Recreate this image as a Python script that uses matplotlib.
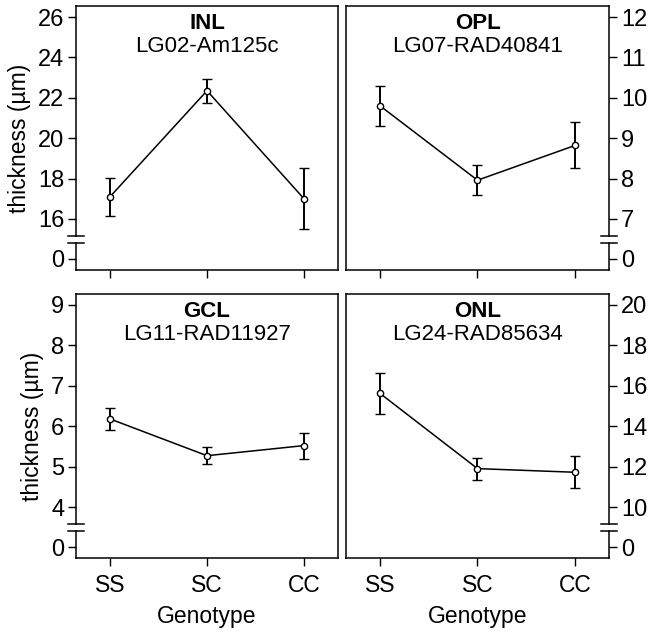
import numpy as np
import matplotlib.pyplot as plt

plt.rcParams['font.family'] = ['Liberation Sans', 'DejaVu Sans']

genotypes = ["SS", "SC", "CC"]

layers = ["INL", "OPL", "GCL", "ONL"]
loci = ["LG02-Am125c", "LG07-RAD40841", "LG11-RAD11927", "LG24-RAD85634"]

inl_mean = [17.1, 22.35, 17.0]
inl_err = [0.95, 0.6, 1.5]
opl_mean = [9.8, 7.96, 8.82]
opl_err = [0.49, 0.37, 0.57]
gcl_mean = [6.18, 5.27, 5.52]
gcl_err = [0.28, 0.21, 0.32]
onl_mean = [15.62, 11.9, 11.72]
onl_err = [1.0, 0.55, 0.8]

inl_ticks = [16, 18, 20, 22, 24, 26]
opl_ticks = [7, 8, 9, 10, 11, 12]
gcl_ticks = [4, 5, 6, 7, 8, 9]
onl_ticks = [10, 12, 14, 16, 18, 20]

means = [inl_mean, opl_mean, gcl_mean, onl_mean]
errs = [inl_err, opl_err, gcl_err, onl_err]
ticks = [inl_ticks, opl_ticks, gcl_ticks, onl_ticks]


def broken_scale(lo, hi):
    # axis measured in px from the bottom: 0 sits low, a gap, then lo..hi
    k = 202.0 / (hi - lo)
    ub = lo - 17.0 / k
    lb = 16.0 / k

    def fwd(y):
        y = np.asarray(y, dtype=float)
        return np.where(y >= ub, 51 + (y - lo) * k,
                        np.where(y <= lb, 11 + y * k,
                                 27 + (y - lb) / (ub - lb) * 7))

    def inv(t):
        t = np.asarray(t, dtype=float)
        return np.where(t >= 34, lo + (t - 51) / k,
                        np.where(t <= 27, (t - 11) / k,
                                 lb + (t - 27) / 7 * (ub - lb)))

    return fwd, inv, ub, lb, k


W, H = 650, 632
fig = plt.figure(figsize=(W / 100, H / 100), dpi=100)

boxes = [(76, 6, 262), (346, 6, 263), (76, 294, 262), (346, 294, 263)]
x = np.arange(1, len(genotypes) + 1)

for i in range(4):
    x0, y0, w = boxes[i]
    ax = fig.add_axes([x0 / W, (H - y0 - 264) / H, w / W, 264 / H])
    left = i % 2 == 0
    bottom = i >= 2
    lo, hi = ticks[i][0], ticks[i][-1]
    fwd, inv, ub, lb, k = broken_scale(lo, hi)
    ax.set_yscale('function', functions=(fwd, inv))

    ax.errorbar(x, means[i], yerr=errs[i], fmt='-o', color='black',
                mfc='white', mec='black', ms=4.5, mew=1.0, lw=1.1,
                elinewidth=1.4, capsize=3.5, capthick=1.4)

    ax.set_xlim(0.65, 3.35)
    ax.set_ylim(-11 / k, lo + 213 / k)
    ax.set_yticks([0] + ticks[i])
    ax.set_yticklabels(['0'] + [str(t) for t in ticks[i]])
    ax.set_xticks(x)
    ax.set_xticklabels(genotypes if bottom else [])

    for s in ax.spines.values():
        s.set_linewidth(1.1)
    side = 'left' if left else 'right'
    sx = 0.0 if left else 1.0
    ax.spines[side].set_bounds(ub, lo + 213 / k)
    ytr = ax.get_yaxis_transform()
    ax.plot([sx, sx], [-11 / k, lb], color='black', lw=1.1,
            transform=ytr, clip_on=False)
    for yb in (ub, lb):
        ax.plot([sx - 0.032, sx + 0.032], [yb, yb], color='black', lw=1.1,
                transform=ytr, clip_on=False)

    ax.tick_params(axis='y', direction='out', length=5.5, width=1.0,
                   labelsize=17, pad=3, left=left, labelleft=left,
                   right=not left, labelright=not left)
    ax.tick_params(axis='x', direction='out', length=5.5, width=1.0,
                   labelsize=16.5, pad=6)

    if left:
        ax.set_ylabel("thickness (µm)", fontsize=16.5, labelpad=5)
    if bottom:
        ax.set_xlabel("Genotype", fontsize=16.5, labelpad=6)

    ax.text(0.5, 1 - 23 / 264, layers[i], transform=ax.transAxes,
            ha='center', va='baseline', fontsize=16, fontweight='bold')
    ax.text(0.5, 1 - 46 / 264, loci[i], transform=ax.transAxes,
            ha='center', va='baseline', fontsize=16)

fig.savefig("out.png", dpi=100)
